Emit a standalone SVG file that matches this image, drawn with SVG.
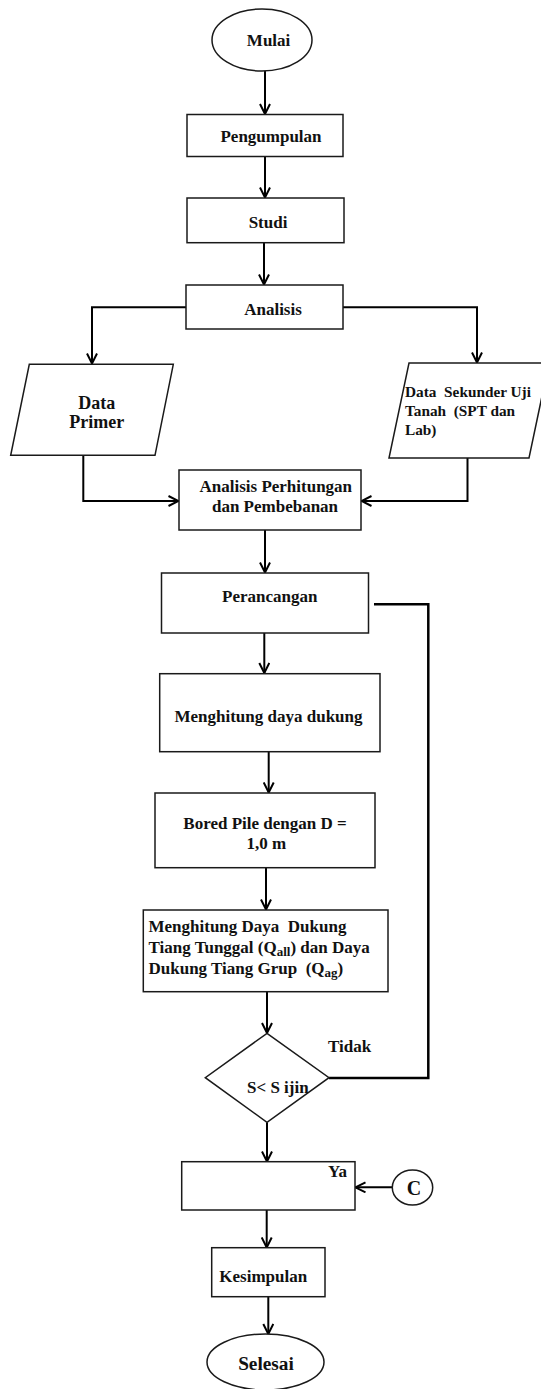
<svg xmlns="http://www.w3.org/2000/svg" width="541" height="1389" viewBox="0 0 541 1389">
<defs>
<style>
.shape{fill:#fff;stroke:#1a1a1a;stroke-width:1.5}
.t{font-family:"Liberation Serif","Times New Roman",serif;font-weight:bold;font-size:17px;fill:#111}
.c{text-anchor:middle}
.conn{fill:none;stroke:#000;stroke-width:2}
.fb{fill:none;stroke:#000;stroke-width:2.5}
</style>
<marker id="arr" viewBox="0 0 12 12" refX="11" refY="6" markerWidth="12" markerHeight="12" markerUnits="userSpaceOnUse" orient="auto">
<path d="M1,1 L11,6 L1,11" fill="none" stroke="#000" stroke-width="2"/>
</marker>
</defs>
<rect width="541" height="1389" fill="#fff"/>

<g id="connectors">
<path class="conn" marker-end="url(#arr)" d="M265,71 V114"/>
<path class="conn" marker-end="url(#arr)" d="M265,156.5 V197.5"/>
<path class="conn" marker-end="url(#arr)" d="M264,242.7 V284.5"/>
<path class="conn" marker-end="url(#arr)" d="M186,307.3 H92 V363.5"/>
<path class="conn" marker-end="url(#arr)" d="M343,307.3 H477 V362.5"/>
<path class="conn" marker-end="url(#arr)" d="M83.3,455.3 V501 H178.5"/>
<path class="conn" marker-end="url(#arr)" d="M467.5,458 V501 H361.5"/>
<path class="conn" marker-end="url(#arr)" d="M265,530 V572.5"/>
<path class="conn" marker-end="url(#arr)" d="M264.3,633 V673"/>
<path class="conn" marker-end="url(#arr)" d="M268.7,751.7 V792.5"/>
<path class="conn" marker-end="url(#arr)" d="M266,867.7 V909.5"/>
<path class="conn" marker-end="url(#arr)" d="M267,991.7 V1033"/>
<path class="conn" marker-end="url(#arr)" d="M267,1122.3 V1161.5"/>
<path class="conn" marker-end="url(#arr)" d="M392.3,1187.3 H355.5"/>
<path class="conn" marker-end="url(#arr)" d="M266.7,1210 V1247.5"/>
<path class="conn" marker-end="url(#arr)" d="M268.3,1296.7 V1334"/>
<path class="fb" d="M329,1078 H428.3 V604.3 H374"/>
</g>

<g id="mulai">
<ellipse class="shape" cx="262" cy="40" rx="50" ry="31"/>
<text class="t c" x="268.6" y="45.7">Mulai</text>
</g>
<g id="pengumpulan">
<rect class="shape" x="187" y="114.5" width="156" height="42"/>
<text class="t c" x="271" y="141.7">Pengumpulan</text>
</g>
<g id="studi">
<rect class="shape" x="187" y="198" width="157" height="44.7"/>
<text class="t c" x="268" y="228.3">Studi</text>
</g>
<g id="analisis">
<rect class="shape" x="186" y="285" width="157" height="44"/>
<text class="t c" x="273" y="315">Analisis</text>
</g>
<g id="data-primer">
<polygon class="shape" points="29.3,364.3 173.3,364.3 155,455.3 10.7,455.3"/>
<text class="t c" x="96.7" y="409.3" style="font-size:18px">Data</text>
<text class="t c" x="96.7" y="427.7" style="font-size:18px">Primer</text>
</g>
<g id="data-sekunder">
<polygon class="shape" points="409,363 549,363 529,458 389,458"/>
<text class="t" x="405" y="397" xml:space="preserve" style="font-size:15.3px">Data  Sekunder Uji</text>
<text class="t" x="405" y="416" xml:space="preserve" style="font-size:15.3px">Tanah  (SPT dan</text>
<text class="t" x="405" y="435" style="font-size:15.3px">Lab)</text>
</g>
<g id="analisis-perhitungan">
<rect class="shape" x="179" y="470" width="182" height="60"/>
<text class="t c" x="275.8" y="492.3">Analisis Perhitungan</text>
<text class="t c" x="275" y="511.7">dan Pembebanan</text>
</g>
<g id="perancangan">
<rect class="shape" x="161.5" y="573" width="207" height="60"/>
<text class="t c" x="269.7" y="601.7">Perancangan</text>
</g>
<g id="menghitung-daya-dukung">
<rect class="shape" x="159.7" y="673.7" width="220.3" height="78"/>
<text class="t c" x="268.5" y="721.7">Menghitung daya dukung</text>
</g>
<g id="bored-pile">
<rect class="shape" x="155" y="793" width="220" height="74.7"/>
<text class="t c" x="265" y="829.3">Bored Pile dengan D =</text>
<text class="t c" x="266.3" y="849.3">1,0 m</text>
</g>
<g id="menghitung-qall-qag">
<rect class="shape" x="143.3" y="910" width="244.7" height="81.7"/>
<text class="t" x="148.5" y="932" xml:space="preserve">Menghitung Daya  Dukung</text>
<text class="t" x="148.5" y="953">Tiang Tunggal (Q<tspan dy="3" style="font-size:13px">all</tspan><tspan dy="-3">) dan Daya</tspan></text>
<text class="t" x="148.5" y="974" xml:space="preserve">Dukung Tiang Grup  (Q<tspan dy="3" style="font-size:13px">ag</tspan><tspan dy="-3">)</tspan></text>
</g>
<g id="keputusan">
<polygon class="shape" points="267,1033.3 329,1077.7 267,1122.3 205.3,1077.7"/>
<text class="t" x="247" y="1093">S&lt; S ijin</text>
<text class="t" x="328" y="1052">Tidak</text>
</g>
<g id="ya">
<rect class="shape" x="181.7" y="1161.7" width="173.3" height="48.3"/>
<text class="t" x="328" y="1177">Ya</text>
</g>
<g id="konektor-c">
<ellipse class="shape" cx="412.5" cy="1187.5" rx="20.2" ry="17.5"/>
<text class="t c" x="414" y="1195" style="font-size:20px">C</text>
</g>
<g id="kesimpulan">
<rect class="shape" x="211.7" y="1247.7" width="113.3" height="49"/>
<text class="t" x="219.3" y="1282">Kesimpulan</text>
</g>
<g id="selesai">
<ellipse class="shape" cx="265.5" cy="1362" rx="58.5" ry="28"/>
<text class="t c" x="266" y="1370" style="font-size:19.3px">Selesai</text>
</g>
</svg>
